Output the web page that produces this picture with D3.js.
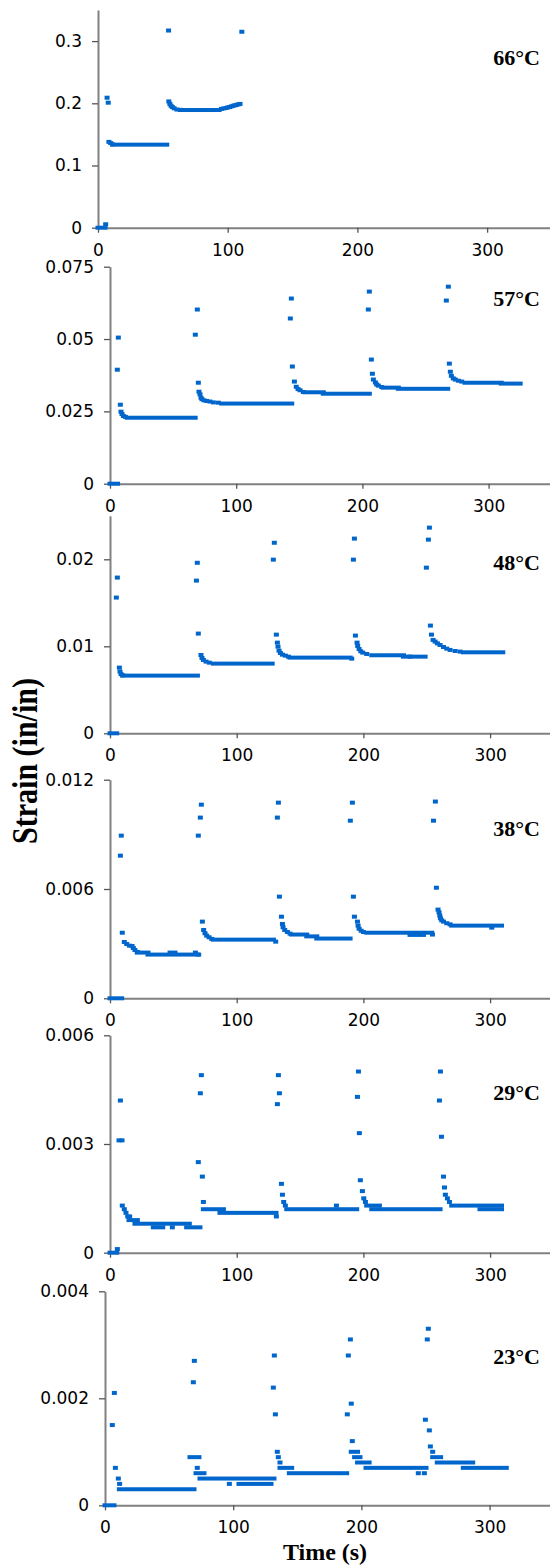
<!DOCTYPE html>
<html>
<head>
<meta charset="utf-8">
<script src="https://cdn.jsdelivr.net/npm/d3@7"></script>
<style>
  body { margin: 0; background: #fff; }
  svg { display: block; }
</style>
</head>
<body>
<div id="viz"></div>
<script>
// creep strain vs time, one panel per temperature (top to bottom)
const temps = ["66°C", "57°C", "48°C", "38°C", "29°C", "23°C"]
const timeTicks = [0, 100, 200, 300]
const yMax = [0.35, 0.075, 0.025, 0.012, 0.006, 0.004]
const yTicks = [
  [0, 0.1, 0.2, 0.3],
  [0, 0.025, 0.05, 0.075],
  [0, 0.01, 0.02],
  [0, 0.006, 0.012],
  [0, 0.003, 0.006],
  [0, 0.002, 0.004]
]

// single readings [time s, strain]
const points66 = [
  [5.9, 0.0055], [7.0, 0.209], [7.9, 0.201], [8.4, 0.138], [9.8, 0.136], [11.4, 0.134],
  [54.4, 0.317], [54.6, 0.203], [55.4, 0.199], [56.3, 0.196], [57.3, 0.194], [58.7, 0.192], [60.8, 0.190], [63.5, 0.1895],
  [95.2, 0.191], [97, 0.1918], [98.7, 0.1925], [100, 0.1933], [101.4, 0.194], [102.8, 0.195], [104.2, 0.196],
  [105.5, 0.1968], [106.9, 0.1975], [108.2, 0.1983], [109.5, 0.199],
  [110.9, 0.315]
]
const points57 = [
  [5.8, 0.0394], [6.6, 0.0505], [8.2, 0.0273], [8.7, 0.0249], [9.5, 0.0241], [10.6, 0.0234], [12.2, 0.0231],
  [67.6, 0.0515], [69.2, 0.0602], [70, 0.0349], [70.5, 0.0318], [71.3, 0.0309], [72.1, 0.0297], [72.9, 0.0292],
  [74.5, 0.0288], [76.6, 0.0286], [79.2, 0.0284], [81.9, 0.0281], [85.8, 0.0280],
  [142.9, 0.0571], [143.7, 0.0640], [144.5, 0.0405], [146.1, 0.0353], [147.6, 0.0335], [149, 0.0327], [150.6, 0.0323], [153.2, 0.0317],
  [204.7, 0.0602], [205.5, 0.0664], [207.1, 0.0429], [207.9, 0.0380], [208.7, 0.0360], [210.3, 0.0350], [211.3, 0.0343],
  [212.6, 0.0339], [215.3, 0.0334],
  [266.5, 0.0633], [268.1, 0.0681], [268.9, 0.0415], [269.7, 0.0387], [270.5, 0.0373], [272, 0.0364], [273.6, 0.0360],
  [276, 0.0356], [278.7, 0.0353]
]
const points48 = [
  [5.0, 0.0156], [5.8, 0.0179], [7.4, 0.00755], [7.9, 0.0071], [8.7, 0.0068], [10, 0.00667],
  [68.2, 0.01755], [68.9, 0.0196], [69.7, 0.01146], [71.8, 0.0090], [72.6, 0.00866], [73.7, 0.00843], [75.8, 0.00824], [78.4, 0.00812],
  [128.9, 0.01996], [129.7, 0.0219], [131.3, 0.01134], [132.1, 0.01042], [132.6, 0.00996], [133.4, 0.0095], [134.5, 0.00923],
  [136.1, 0.00904], [138.4, 0.00893], [140.8, 0.00881],
  [190.8, 0.00858], [192.1, 0.01996], [192.9, 0.02238], [193.7, 0.01123], [195, 0.01042], [195.5, 0.01004], [196.6, 0.00969],
  [197.9, 0.00943], [199.5, 0.00927], [202.6, 0.00912],
  [236.8, 0.00881],
  [249.7, 0.01904], [251.3, 0.02226], [252.1, 0.02364], [252.9, 0.01238], [253.7, 0.01134], [255, 0.01073], [256.6, 0.01054],
  [258.4, 0.01034], [260.5, 0.01015], [263.2, 0.00992], [265.8, 0.00973], [268.4, 0.00958], [272.4, 0.00946], [276.3, 0.00939]
]
const points38 = [
  [8.2, 0.00783], [8.9, 0.00893], [9.7, 0.0036], [11.3, 0.00309], [13.2, 0.00298], [15.3, 0.00289], [17.4, 0.00287],
  [18.4, 0.00276], [19.7, 0.00265], [21.6, 0.00254],
  [67.4, 0.00251], [70, 0.0024],
  [69.7, 0.00893], [71.3, 0.00992], [72.1, 0.01063], [72.9, 0.00421], [73.9, 0.00375], [75, 0.00357], [76.3, 0.00344],
  [78.2, 0.00335], [80.3, 0.00326],
  [130.8, 0.00311], [132.1, 0.00992], [132.9, 0.01074], [133.7, 0.00558], [135.3, 0.00448], [136.1, 0.00408], [136.6, 0.0039],
  [137.9, 0.00375], [140, 0.00364], [142.1, 0.00355],
  [189.7, 0.00975], [191.3, 0.01074], [192.1, 0.00558], [192.9, 0.00448], [195.3, 0.00421], [195.8, 0.00399], [196.6, 0.00382],
  [198.2, 0.00371], [200, 0.00364],
  [254.5, 0.0035], [255.3, 0.00975], [256.8, 0.0108], [257.6, 0.00607], [258.9, 0.00487], [259.7, 0.00472], [260.3, 0.00454],
  [260.8, 0.00439], [261.8, 0.00428], [263.2, 0.00421], [265.8, 0.00412], [268.4, 0.00406],
  [301.3, 0.00388]
]
const points29 = [
  [5.8, 0.0001], [7.1, 0.0031], [8.2, 0.0042], [9.5, 0.0031], [9.7, 0.0013], [11.3, 0.0012], [12.6, 0.0011], [14, 0.001], [15.5, 0.001],
  [49.2, 0.0007],
  [69.7, 0.0025], [71.3, 0.0044], [72.1, 0.0049], [72.9, 0.0021], [73.7, 0.0014],
  [131.3, 0.001], [132.1, 0.0041], [132.9, 0.0049], [133.7, 0.0044], [135.3, 0.0019], [136.1, 0.0016], [137.1, 0.0014], [138.4, 0.0013],
  [178.7, 0.0013],
  [195.3, 0.0043], [196.1, 0.005], [196.8, 0.0033], [197.6, 0.002], [199.2, 0.0017], [200.3, 0.0015], [201.6, 0.0014],
  [260, 0.0042], [260.8, 0.005], [261.6, 0.0032], [263.2, 0.0021], [264, 0.0018], [264.7, 0.0016], [266.3, 0.0015], [267.9, 0.0014]
]
const points23 = [
  [5.7, 0.0015], [7.3, 0.0021], [8.1, 0.0007], [10.4, 0.0005], [11.4, 0.0004],
  [68.9, 0.0023], [69.7, 0.0027], [72, 0.0007],
  [97, 0.0004],
  [131.3, 0.0022], [132.1, 0.0028], [132.9, 0.0017], [134.4, 0.001], [135.2, 0.0009], [136.5, 0.0008],
  [189, 0.0017], [189.8, 0.0028], [191.4, 0.0031], [192.1, 0.0019], [192.9, 0.0012],
  [244.4, 0.0006], [249.1, 0.0006],
  [249.9, 0.0016], [251.4, 0.0031], [252.2, 0.0033], [253, 0.0014], [253.8, 0.0011], [255.6, 0.001]
]

// stretches where consecutive readings sit on one value [from s, to s, strain]
const runs66 = [[0, 5.4, 0], [11.4, 53, 0.1335], [63.5, 93.3, 0.1892]]
const runs57 = [
  [0, 6, 0], [13.7, 67.5, 0.0228], [88.5, 144, 0.0277], [154.5, 169, 0.0316], [169, 205.5, 0.0311],
  [216.6, 228.5, 0.0332], [228.5, 267.6, 0.0328], [281.3, 310, 0.0349], [310, 325, 0.0346]
]
const runs48 = [
  [0, 5.3, 0], [10, 69, 0.00663], [81.6, 128, 0.00801], [142.1, 189.5, 0.0087], [206.6, 231.6, 0.00897],
  [231.6, 248.7, 0.00881], [278.9, 310, 0.00931]
]
const runs38 = [
  [0, 9.2, 0], [21.6, 30, 0.00251], [30, 69, 0.0024], [47.4, 51.3, 0.00251], [81.6, 129, 0.00322],
  [143.4, 155.3, 0.0035], [155.3, 163.2, 0.0034], [163.2, 189.5, 0.00328], [202.6, 253.9, 0.0036],
  [236.8, 247.4, 0.00348], [269.7, 309, 0.00399]
]
const runs29 = [
  [0, 5.3, 0], [15, 21.6, 0.0009], [19.7, 62.6, 0.0008], [34.2, 41.6, 0.0007], [60.5, 71, 0.0007],
  [73.7, 89.5, 0.0012], [86.8, 131, 0.0011], [139.5, 194.7, 0.0012], [202.6, 212.6, 0.0013],
  [206.6, 260.5, 0.0012], [269.7, 309, 0.0013], [292, 309, 0.0012]
]
const runs23 = [
  [0, 7, 0], [11.2, 69.4, 0.0003], [66.3, 73.3, 0.0009], [71, 77.2, 0.0006], [74.1, 131.8, 0.0005],
  [104.5, 129.5, 0.0004], [136.5, 145.6, 0.0007], [143.8, 188.5, 0.0006], [192.1, 197, 0.001],
  [194.7, 198.9, 0.0009], [197, 206, 0.0008], [203.6, 250.4, 0.0007], [255.6, 261.8, 0.0009],
  [259.2, 286.8, 0.0008], [279.5, 313, 0.0007]
]

const allPoints = [points66, points57, points48, points38, points29, points23]
const allRuns = [runs66, runs57, runs48, runs38, runs29, runs23]

// page layout
const width = 550
const height = 1566
const markW = 5
const markH = 4
const blue = "#0066cc"

// frame of each panel: x of y axis, px per second, y of zero, y of top, label baseline
const frames = [
  {x0: 98, pxs: 1.297, yBot: 227.7, yTop: 10, ty: 65},
  {x0: 110, pxs: 1.262, yBot: 483.7, yTop: 266.7, ty: 306},
  {x0: 110, pxs: 1.267, yBot: 733.3, yTop: 515.8, ty: 570},
  {x0: 110, pxs: 1.267, yBot: 998.3, yTop: 779.7, ty: 836},
  {x0: 110, pxs: 1.267, yBot: 1252.7, yTop: 1035.3, ty: 1100},
  {x0: 105, pxs: 1.282, yBot: 1505.3, yTop: 1291.3, ty: 1364}
]

const svg = d3.select("#viz")
  .append("svg")
  .attr("width", width)
  .attr("height", height)

frames.forEach(function (f, i) {
  const x = d3.scaleLinear()
    .domain([0, (width - f.x0) / f.pxs])
    .range([f.x0, width])
  const y = d3.scaleLinear()
    .domain([0, yMax[i]])
    .range([f.yBot, f.yTop])

  const panel = svg.append("g").attr("class", "panel")

  // x axis
  panel.append("g")
    .attr("transform", "translate(0," + f.yBot + ")")
    .call(d3.axisBottom(x).tickValues(timeTicks).tickSize(5).tickPadding(11).tickSizeOuter(0))
  // y axis
  panel.append("g")
    .attr("transform", "translate(" + f.x0 + ",0)")
    .call(d3.axisLeft(y).tickValues(yTicks[i]).tickSize(6).tickPadding(10).tickSizeOuter(0)
      .tickFormat(function (d) { return String(d) }))

  panel.selectAll(".domain").attr("stroke", "#808080").attr("stroke-width", 2)
  panel.selectAll(".tick line").attr("stroke", "#555").attr("stroke-width", 1.3)
  panel.selectAll(".tick text")
    .attr("font-family", "'DejaVu Sans', sans-serif")
    .attr("font-size", 17)
    .attr("fill", "#000")

  // plateaus
  panel.append("g")
    .selectAll("rect")
    .data(allRuns[i])
    .enter()
    .append("rect")
    .attr("x", function (d) { return x(d[0]) - markW / 2 })
    .attr("y", function (d) { return y(d[2]) - markH / 2 })
    .attr("width", function (d) { return x(d[1]) - x(d[0]) + markW })
    .attr("height", markH)
    .attr("fill", blue)

  // single readings
  panel.append("g")
    .selectAll("rect")
    .data(allPoints[i])
    .enter()
    .append("rect")
    .attr("x", function (d) { return x(d[0]) - markW / 2 })
    .attr("y", function (d) { return y(d[1]) - markH / 2 })
    .attr("width", markW)
    .attr("height", markH)
    .attr("fill", blue)

  // temperature
  panel.append("text")
    .attr("x", 540)
    .attr("y", f.ty)
    .attr("text-anchor", "end")
    .attr("font-family", "'Liberation Serif', 'Times New Roman', serif")
    .attr("font-weight", "bold")
    .attr("font-size", 22)
    .text(temps[i])
})

// axis titles
svg.append("text")
  .attr("transform", "translate(37,761) rotate(-90) scale(1,1.2)")
  .attr("text-anchor", "middle")
  .attr("font-family", "'Liberation Serif', 'Times New Roman', serif")
  .attr("font-weight", "bold")
  .attr("font-size", 30)
  .text("Strain (in/in)")

svg.append("text")
  .attr("x", 325)
  .attr("y", 1560)
  .attr("text-anchor", "middle")
  .attr("font-family", "'Liberation Serif', 'Times New Roman', serif")
  .attr("font-weight", "bold")
  .attr("font-size", 24)
  .text("Time (s)")
</script>
</body>
</html>
